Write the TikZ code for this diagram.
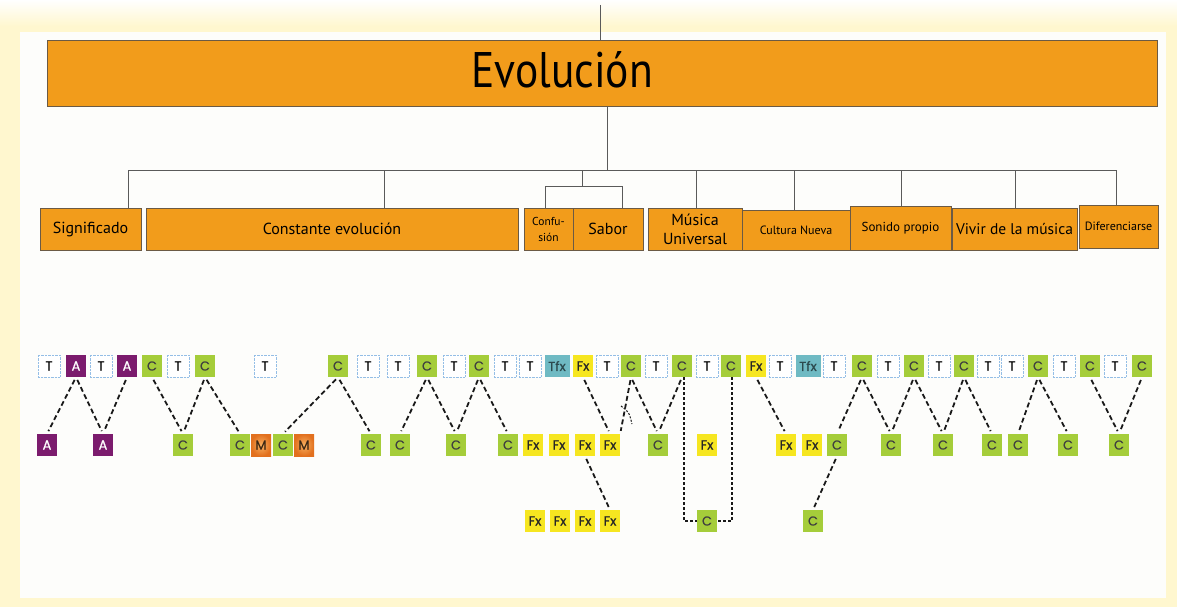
\documentclass[tikz,border=0pt]{standalone}
\usepackage{fontspec}
\setmainfont{PT Sans}
\newfontfamily\tokfont{Poppins}[FakeBold=0.7]

\definecolor{evoorange}{HTML}{F29C1B}
\definecolor{evoedge}{HTML}{6B5A45}
\definecolor{framey}{HTML}{FFF7CF}
\definecolor{paper}{HTML}{FDFDFB}
\definecolor{cgreen}{HTML}{A5CD3A}
\definecolor{fxyellow}{HTML}{F6E620}
\definecolor{tfxteal}{HTML}{6FBAC3}
\definecolor{apurple}{HTML}{7B1B6D}
\definecolor{mlight}{HTML}{F7B060}
\definecolor{mdark}{HTML}{E2701E}
\definecolor{tblue}{HTML}{94BEE6}
\definecolor{treegray}{HTML}{5A5A5A}

\tikzset{
  cat/.style={draw=evoedge, line width=0.9pt, fill=evoorange, inner sep=1pt,
    align=center, font=\fontsize{16}{17}\selectfont},
  tok/.style={minimum width=20pt, minimum height=22pt, inner sep=0pt,
    font=\tokfont\fontsize{13}{13}\selectfont},
  tokT/.style={tok, minimum width=22pt, draw=tblue, densely dotted, fill=white},
  tokA/.style={tok, fill=apurple, text=white},
  tokC/.style={tok, fill=cgreen, text=black!75},
  tokFx/.style={tok, fill=fxyellow, text=black!85},
  tokTfx/.style={tok, minimum width=25pt, fill=tfxteal, text=black!60!tfxteal},
  tokM/.style={tok, inner color=mlight, outer color=mdark, text=black!70!brown},
  link/.style={draw=black!90, line width=1.8pt, dash pattern=on 5pt off 3pt,
    shorten <=3pt, shorten >=3pt},
  elbow/.style={draw=black!90, line width=1.3pt, dash pattern=on 3pt off 2pt}
}

\begin{document}
\begin{tikzpicture}[x=1pt, y=-1pt]
  \useasboundingbox (0,0) rectangle (1177,607);
  % frame
  \fill[framey] (0,0) rectangle (1177,607);
  \shade[top color=white, bottom color=framey] (0,0) rectangle (1177,26);
  \fill[paper] (20,32) rectangle (1166,598);

  % title and categories
  \node[cat, minimum width=1110pt, minimum height=66pt] (evo) at (602,73) {};
  \node[font=\fontsize{50}{52}\selectfont] (evotitle) at (562,70)
    {\scalebox{0.87}[1]{Evolución}};
  \node[cat, minimum width=101pt, minimum height=42pt] (signif) at (90.5,229) {Significado};
  \node[cat, minimum width=372pt, minimum height=42pt] (const) at (332,229) {Constante evolución};
  \node[cat, minimum width=49pt, minimum height=42pt,
    font=\fontsize{11.5}{16}\selectfont] (confu) at (548.5,229) {Confu-\\sión};
  \node[cat, minimum width=70pt, minimum height=42pt] (sabor) at (608,229) {Sabor};
  \node[cat, minimum width=94pt, minimum height=42pt,
    font=\fontsize{16}{19}\selectfont] (musica) at (695,229) {Música\\Universal};
  \node[cat, minimum width=108pt, minimum height=40pt,
    font=\fontsize{12}{14}\selectfont] (cultura) at (796,230) {Cultura Nueva};
  \node[cat, minimum width=101pt, minimum height=44pt,
    font=\fontsize{13}{15}\selectfont] (sonido) at (900.5,228) {Sonido propio};
  \node[cat, minimum width=125pt, minimum height=42pt,
    font=\fontsize{15.5}{17}\selectfont] (vivir) at (1014.5,229) {Vivir de la música};
  \node[cat, minimum width=79pt, minimum height=43pt,
    font=\fontsize{12}{14}\selectfont] (difer) at (1118.5,226.5) {Diferenciarse};

  % tree
  \coordinate (top) at (600,5);
  \coordinate (hub) at (607,170);
  \coordinate (sub) at (582,186);
  \draw[treegray, line width=0.8pt] (top) -- (top |- evo.north);
  \draw[treegray, line width=0.8pt] (hub |- evo.south) -- (hub);
  \draw[treegray, line width=0.8pt] (128,170) -- (1116,170);
  \foreach \x/\n in {128/signif, 384/const, 696/musica, 794/cultura,
                     901/sonido, 1015/vivir, 1116/difer}
    \draw[treegray, line width=0.8pt] (\x,170) -- (\x,170 |- \n.north);
  \draw[treegray, line width=0.8pt] (sub |- hub) -- (sub);
  \draw[treegray, line width=0.8pt] (545,186) -- (622,186);
  \draw[treegray, line width=0.8pt] (545,186) -- (545,186 |- confu.north);
  \draw[treegray, line width=0.8pt] (622,186) -- (622,186 |- sabor.north);

  % tokens
  \foreach \x/\k [count=\i] in {49/T,76/A,101/T,127/A,152/C,178/T,205/C,265/T,
      338/C,368/T,398/T,427/C,454/T,479/C,505/T,530/T,557/Tfx,583/Fx,607/T,
      631/C,656/T,682/C,707/T,731/C,756/Fx,780/T,808/Tfx,834/T,862/C,888/T,
      914/C,939/T,964/C,988/T,1012/T,1038/C,1064/T,1090/C,1115/T,1142/C}
    \node[tok\k] (t\i) at (\x,366) {\k};
  \foreach \x/\k [count=\i] in {47/A,103/A,183/C,240/C,261/M,283/C,304/M,
      371/C,400/C,456/C,508/C,533/Fx,559/Fx,585/Fx,610/Fx,658/C,707/Fx,
      786/Fx,812/Fx,837/C,891/C,943/C,992/C,1018/C,1068/C,1119/C}
    \node[tok\k] (m\i) at (\x,445) {\k};
  \foreach \x/\k [count=\i] in {535/Fx,560/Fx,585/Fx,610/Fx,707/C,813/C}
    \node[tok\k] (b\i) at (\x,521) {\k};

  % links
  \foreach \a/\b in {t2/m1, t2/m2, t4/m2, t5/m3, t7/m3, t7/m4, t9/m6, t9/m8,
      t12/m9, t12/m10, t14/m10, t14/m11, t18/m15, t20/m16, t22/m16,
      t25/m18, t29/m20, t29/m21, t31/m21, t31/m22, t33/m22, t33/m23,
      t36/m24, t36/m25, t38/m26, t40/m26, m14/b4, m20/b6}
    \draw[link] (\a.south) -- (\b.north);
  \draw[link] (t20.south) -- (m15.north east);
  \draw[elbow] ([xshift=2pt]t22.south) |- (b5.west);
  \draw[elbow] ([xshift=1pt]t24.south) |- (b5.east);
  \draw[elbow, line width=1pt, dash pattern=on 2pt off 1.5pt]
    (621,406) .. controls (629,412) .. (632,424);
\end{tikzpicture}
\end{document}
